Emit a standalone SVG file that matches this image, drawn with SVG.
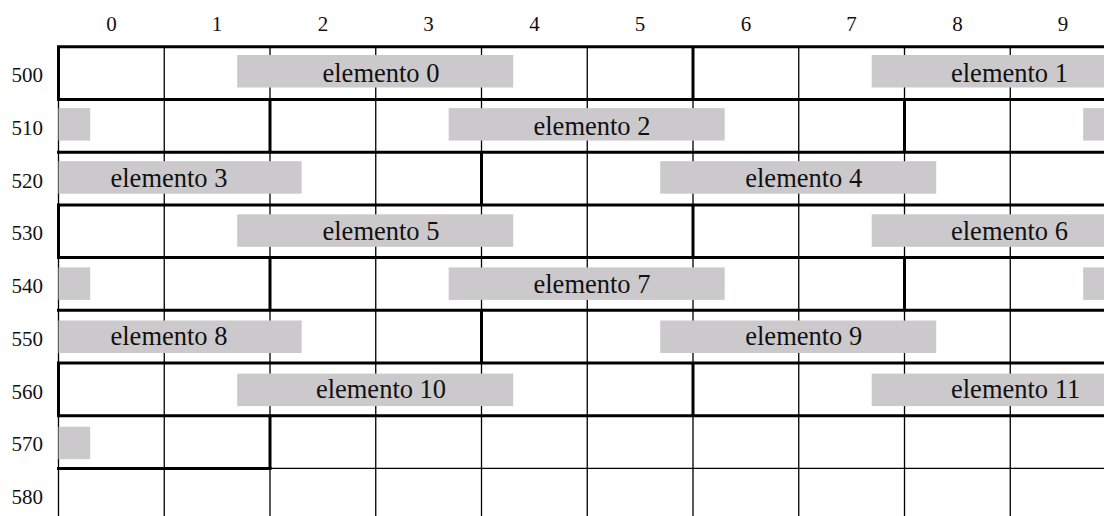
<svg xmlns="http://www.w3.org/2000/svg" width="1104" height="516" viewBox="0 0 1104 516">
<style>
.thin{stroke:#000;stroke-width:1.3;fill:none}
.thick{stroke:#000;stroke-width:3;fill:none}
.box{fill:#ccc9cc}
.lbl{font-family:"Liberation Serif","Times New Roman",serif;font-size:26.5px;fill:#111}
.mid{text-anchor:middle}
.ax{font-family:"Liberation Serif","Times New Roman",serif;font-size:21px;fill:#111}
</style>
<rect width="1104" height="516" fill="#fff"/>
<g id="grid" class="thin">
<path d="M58.5 46.8V516M164.25 46.8V516M270 46.8V516M375.75 46.8V516M481.5 46.8V516M587.25 46.8V516M693 46.8V516M798.75 46.8V516M904.5 46.8V516M1010.25 46.8V516"/>
<path d="M58.5 46.8H1104M58.5 99.5H1104M58.5 152.2H1104M58.5 204.9H1104M58.5 257.6H1104M58.5 310.3H1104M58.5 363H1104M58.5 415.7H1104M58.5 468.4H1104"/>
</g>
<g id="col-labels" class="ax mid">
<text x="111.4" y="31">0</text>
<text x="217.1" y="31">1</text>
<text x="322.9" y="31">2</text>
<text x="428.6" y="31">3</text>
<text x="534.4" y="31">4</text>
<text x="640.1" y="31">5</text>
<text x="745.9" y="31">6</text>
<text x="851.6" y="31">7</text>
<text x="957.4" y="31">8</text>
<text x="1063.1" y="31">9</text>
</g>
<g id="row-labels" class="ax" text-anchor="end">
<text x="43" y="82.3">500</text>
<text x="43" y="135">510</text>
<text x="43" y="187.7">520</text>
<text x="43" y="240.4">530</text>
<text x="43" y="293.1">540</text>
<text x="43" y="345.8">550</text>
<text x="43" y="398.5">560</text>
<text x="43" y="451.2">570</text>
<text x="43" y="503.9">580</text>
</g>
<g id="elemento-0"><rect class="box" x="237.2" y="55" width="276" height="32.5"/><text class="lbl mid" x="381" y="81.8">elemento 0</text></g>
<g id="elemento-1"><rect class="box" x="871.7" y="55" width="240" height="32.5"/><rect class="box" x="58.5" y="108.1" width="31.7" height="32.5"/><text class="lbl" x="951" y="81.8">elemento 1</text></g>
<g id="elemento-2"><rect class="box" x="448.7" y="108.1" width="276" height="32.5"/><text class="lbl mid" x="592" y="134.5">elemento 2</text></g>
<g id="elemento-3"><rect class="box" x="1083.2" y="108.1" width="30" height="32.5"/><rect class="box" x="58.5" y="161.2" width="243.2" height="32.5"/><text class="lbl mid" x="169" y="187.2">elemento 3</text></g>
<g id="elemento-4"><rect class="box" x="660.2" y="161.2" width="276" height="32.5"/><text class="lbl mid" x="803.75" y="187.2">elemento 4</text></g>
<g id="elemento-5"><rect class="box" x="237.2" y="214.3" width="276" height="32.5"/><text class="lbl mid" x="381" y="239.9">elemento 5</text></g>
<g id="elemento-6"><rect class="box" x="871.7" y="214.3" width="240" height="32.5"/><rect class="box" x="58.5" y="267.4" width="31.7" height="32.5"/><text class="lbl" x="951" y="239.9">elemento 6</text></g>
<g id="elemento-7"><rect class="box" x="448.7" y="267.4" width="276" height="32.5"/><text class="lbl mid" x="592" y="292.6">elemento 7</text></g>
<g id="elemento-8"><rect class="box" x="1083.2" y="267.4" width="30" height="32.5"/><rect class="box" x="58.5" y="320.5" width="243.2" height="32.5"/><text class="lbl mid" x="169" y="345.3">elemento 8</text></g>
<g id="elemento-9"><rect class="box" x="660.2" y="320.5" width="276" height="32.5"/><text class="lbl mid" x="803.75" y="345.3">elemento 9</text></g>
<g id="elemento-10"><rect class="box" x="237.2" y="373.6" width="276" height="32.5"/><text class="lbl mid" x="381" y="398">elemento 10</text></g>
<g id="elemento-11"><rect class="box" x="871.7" y="373.6" width="240" height="32.5"/><rect class="box" x="58.5" y="426.7" width="31.7" height="32.5"/><text class="lbl" x="951" y="398">elemento 11</text></g>
<g id="blocks" class="thick">
<path d="M57 46.8H1104M57 99.5H1104M57 152.2H1104M57 204.9H1104M57 257.6H1104M57 310.3H1104M57 363H1104M57 415.7H1104M57 468.4H271.5"/>
<path d="M58.5 46.8V99.5M58.5 204.9V257.6M58.5 363V415.7"/>
<path d="M693 46.8V99.5M693 204.9V257.6M693 363V415.7"/>
<path d="M270 99.5V152.2M270 257.6V310.3M270 415.7V468.4"/>
<path d="M904.5 99.5V152.2M904.5 257.6V310.3"/>
<path d="M481.5 152.2V204.9M481.5 310.3V363"/>
</g>
</svg>
